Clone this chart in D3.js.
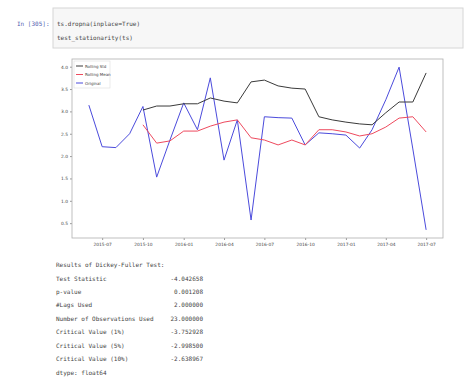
<!DOCTYPE html>
<html>
<head>
<meta charset="utf-8">
<script src="https://cdn.jsdelivr.net/npm/d3@7"></script>
<style>
  body { margin: 0; background: #fff; }
  .mono { font-family: "DejaVu Sans Mono", monospace; }
  .tick text { font-family: "DejaVu Sans", sans-serif; font-size: 4.4px; fill: #444; }
  .tick line { stroke: #999; }
  .domain { stroke: none; }
</style>
</head>
<body>
<div id="cell"></div>
<script>
// months of the series (monthly)
var months = ["2015-06","2015-07","2015-08","2015-09","2015-10","2015-11","2015-12",
  "2016-01","2016-02","2016-03","2016-04","2016-05","2016-06","2016-07","2016-08",
  "2016-09","2016-10","2016-11","2016-12","2017-01","2017-02","2017-03","2017-04",
  "2017-05","2017-06","2017-07"];

var original = [3.14, 2.21, 2.19, 2.50, 3.11, 1.53, 2.36, 3.19, 2.59, 3.75, 1.91, 2.81, 0.57,
  2.88, 2.86, 2.85, 2.25, 2.52, 2.50, 2.47, 2.18, 2.59, 3.26, 3.99, 2.16, 0.35];
var rollMean = [null, null, null, null, 2.70, 2.29, 2.34, 2.56, 2.56, 2.67, 2.76, 2.81, 2.41,
  2.36, 2.25, 2.36, 2.25, 2.59, 2.59, 2.54, 2.45, 2.50, 2.65, 2.85, 2.88, 2.54];
var rollStd = [null, null, null, null, 3.03, 3.12, 3.12, 3.17, 3.17, 3.30, 3.23, 3.19, 3.66,
  3.70, 3.57, 3.52, 3.50, 2.88, 2.81, 2.76, 2.72, 2.70, 2.97, 3.21, 3.21, 3.86];

var xTickLabels = ["2015-07","2015-10","2016-01","2016-04","2016-07","2016-10","2017-01","2017-04","2017-07"];
var yTicks = [0.5, 1.0, 1.5, 2.0, 2.5, 3.0, 3.5, 4.0];

var legendLabels = ["Rolling Std", "Rolling Mean", "Original"];

var codeLines = ["ts.dropna(inplace=True)", "test_stationarity(ts)"];
var dfLabels = ["Test Statistic", "p-value", "#Lags Used", "Number of Observations Used",
  "Critical Value (1%)", "Critical Value (5%)", "Critical Value (10%)"];
var dfValues = ["-4.042658", "0.001208", "2.000000", "23.000000", "-3.752928", "-2.998500", "-2.638967"];

var svgWidth = 470;
var svgHeight = 383;

var svg = d3.select("#cell")
  .append("svg")
  .attr("width", svgWidth)
  .attr("height", svgHeight);

// input cell
svg.append("rect")
  .attr("x", 53).attr("y", 8)
  .attr("width", 410).attr("height", 40)
  .attr("fill", "#f7f7f7")
  .attr("stroke", "#d6d6d6");

svg.append("text")
  .attr("class", "mono")
  .attr("x", 17).attr("y", 26)
  .attr("font-size", 6)
  .attr("fill", "#5060b0")
  .text("In [305]:");

svg.selectAll(".code")
  .data(codeLines)
  .enter()
  .append("text")
  .attr("class", "mono code")
  .attr("x", 57)
  .attr("y", (d, i) => 26 + i * 14)
  .attr("font-size", 6)
  .attr("fill", "#444")
  .text(d => d);

// plot
var margin = { top: 59, left: 72 };
var width = 371;
var height = 179;

var parse = d3.timeParse("%Y-%m");
var dates = months.map(parse);

var first = dates[0], last = dates[dates.length - 1];
var pad = (last - first) * 0.05;
var xScale = d3.scaleTime()
  .domain([new Date(+first - pad), new Date(+last + pad)])
  .range([0, width]);

var yScale = d3.scaleLinear()
  .domain([0.168, 4.172])
  .range([height, 0]);

var chartGroup = svg.append("g")
  .attr("transform", `translate(${margin.left}, ${margin.top})`);

chartGroup.append("g")
  .attr("transform", `translate(0,${height})`)
  .call(d3.axisBottom(xScale)
    .tickValues(xTickLabels.map(parse))
    .tickFormat(d3.timeFormat("%Y-%m"))
    .tickSize(2).tickPadding(3));

chartGroup.append("g")
  .call(d3.axisLeft(yScale)
    .tickValues(yTicks)
    .tickFormat(d3.format(".1f"))
    .tickSize(2).tickPadding(2));

var series = [
  { values: rollStd, color: "#3a3a3a" },
  { values: rollMean, color: "#ee4a5e" },
  { values: original, color: "#4b4bdc" }
];

var line = d3.line()
  .defined(d => d[1] != null)
  .x(d => xScale(d[0]))
  .y(d => yScale(d[1]));

// draw original first so it sits under the rolling lines
[series[2], series[1], series[0]].forEach(s => {
  chartGroup.append("path")
    .datum(dates.map((d, i) => [d, s.values[i]]))
    .attr("fill", "none")
    .attr("stroke", s.color)
    .attr("stroke-width", 1)
    .attr("d", line);
});

// frame
chartGroup.append("rect")
  .attr("width", width).attr("height", height)
  .attr("fill", "none")
  .attr("stroke", "#b0b0b0")
  .attr("stroke-width", 0.8);

// legend
var legend = chartGroup.append("g")
  .attr("transform", "translate(2, 2)");
legend.append("rect")
  .attr("width", 36).attr("height", 27)
  .attr("fill", "#fff")
  .attr("stroke", "#ddd")
  .attr("stroke-width", 0.6);
series.forEach((s, i) => {
  legend.append("line")
    .attr("x1", 2).attr("x2", 9)
    .attr("y1", 5 + i * 8.5).attr("y2", 5 + i * 8.5)
    .attr("stroke", s.color);
  legend.append("text")
    .attr("x", 11).attr("y", 6.5 + i * 8.5)
    .attr("font-family", "DejaVu Sans, sans-serif")
    .attr("font-size", 4)
    .attr("fill", "#444")
    .text(legendLabels[i]);
});

// Dickey-Fuller results
var out = svg.append("g").attr("class", "mono").attr("font-size", 6).attr("fill", "#444");
out.append("text").attr("x", 56).attr("y", 267).text("Results of Dickey-Fuller Test:");
dfLabels.forEach((lab, i) => {
  out.append("text").attr("x", 56).attr("y", 280.5 + i * 13.45).text(lab);
  out.append("text").attr("x", 203).attr("y", 280.5 + i * 13.45)
    .attr("text-anchor", "end").text(dfValues[i]);
});
out.append("text").attr("x", 56).attr("y", 374.5).text("dtype: float64");
</script>
</body>
</html>
